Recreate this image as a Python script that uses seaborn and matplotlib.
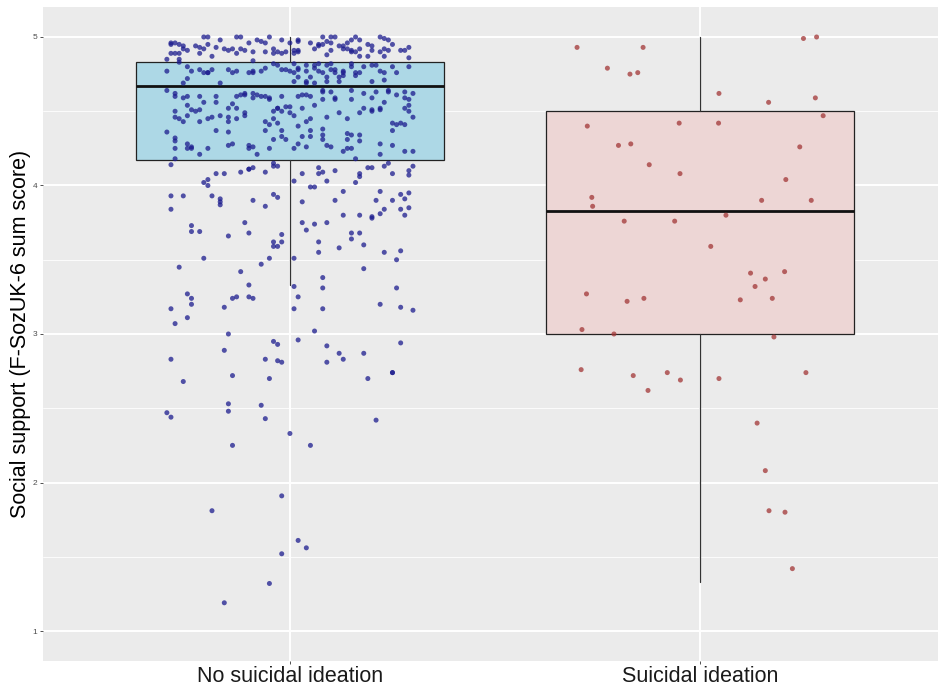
import numpy as np
import pandas as pd
import matplotlib
matplotlib.use("Agg")
import matplotlib.pyplot as plt
import seaborn as sns

# ---------------- data ----------------
categories = ["No suicidal ideation", "Suicidal ideation"]

# box statistics (q1, median, q3, lower whisker, upper whisker)
box_q1 = [4.17, 3.00]
box_med = [4.67, 3.83]
box_q3 = [4.83, 4.50]
box_lo = [3.33, 1.33]
box_hi = [5.00, 5.00]

# jittered points: horizontal jitter offset and score, group "No suicidal ideation"
no_si_jit = [
    -0.29, -0.29, -0.28, -0.27, -0.26, -0.27, -0.29, -0.28, -0.26, -0.25, -0.23, -0.22, -0.21, -0.20, -0.21,
    -0.20, -0.22, -0.19, -0.18, -0.17, -0.16, -0.15, -0.14, -0.13, -0.13, -0.12, -0.12, -0.11, -0.10, -0.09,
    -0.09, -0.08, -0.07, -0.06, -0.06, -0.05, -0.04, -0.04, -0.03, -0.02, -0.02, -0.01, -0.27, -0.27, -0.30,
    -0.30, -0.25, -0.24, -0.22, -0.21, -0.20, -0.20, -0.19, -0.17, -0.25, -0.15, -0.14, -0.13, -0.10, -0.09,
    -0.09, -0.07, -0.06, -0.04, -0.03, -0.02, -0.01, -0.26,
    -0.30, -0.28, -0.28, -0.26, -0.25, -0.25, -0.24, -0.22, -0.21, -0.18, -0.18, -0.15, -0.14, -0.13, -0.13,
    -0.12, -0.11, -0.11, -0.09, -0.09, -0.08, -0.07, -0.06, -0.05, -0.05, -0.02, -0.01, -0.03, -0.03, -0.04,
    -0.04, -0.28, -0.28, -0.27, -0.26, -0.25, -0.23, -0.22, -0.22, -0.20, -0.19, -0.17, -0.15, -0.15, -0.13,
    -0.11, -0.11, -0.06, -0.06, -0.05, -0.03, -0.02, -0.02, 0.00, -0.30, -0.28, -0.28, -0.25, -0.25, -0.24,
    -0.24, -0.20, -0.18, -0.15, -0.15, -0.14, -0.10, -0.10, -0.09, -0.08, -0.05, -0.04, -0.02, -0.01, -0.28,
    -0.28, -0.22,
    0.02, 0.02, 0.02, 0.02, 0.01, 0.05, 0.06, 0.07, 0.07, 0.08, 0.08, 0.09, 0.09, 0.10, 0.10,
    0.10, 0.11, 0.12, 0.13, 0.13, 0.14, 0.15, 0.14, 0.15, 0.15, 0.16, 0.16, 0.17, 0.17, 0.17,
    0.19, 0.20, 0.19, 0.20, 0.22, 0.23, 0.24, 0.23, 0.23, 0.22, 0.24, 0.25, 0.27, 0.28, 0.29,
    0.29, 0.00, 0.01,
    0.01, 0.02, 0.01, 0.02, 0.02, 0.01, 0.04, 0.04, 0.05, 0.06, 0.06, 0.07, 0.07, 0.08, 0.09,
    0.09, 0.10, 0.10, 0.11, 0.11, 0.12, 0.13, 0.13, 0.13, 0.15, 0.15, 0.16, 0.16, 0.17, 0.18,
    0.20, 0.20, 0.21, 0.22, 0.23, 0.23, 0.25, 0.26, 0.29, 0.04, 0.04, 0.06, 0.09, 0.12, 0.00,
    0.02, 0.03, 0.04, 0.05, 0.08, 0.08, 0.10, 0.08, 0.11, 0.11, 0.15, 0.15, 0.18, 0.20, 0.21,
    0.24, 0.24, 0.26, 0.28, 0.28, 0.30, 0.29, 0.29, 0.28, 0.29, 0.00, 0.01, 0.03, 0.04, 0.05,
    0.06, 0.09, 0.12, 0.14, 0.17, 0.18, 0.20, 0.20, 0.22, 0.22, 0.23, 0.25, 0.26, 0.27, 0.25,
    0.28, 0.30, 0.02, 0.03, 0.05, 0.05, 0.08, 0.08, 0.08, 0.14, 0.15, 0.14, 0.14, 0.15, 0.17,
    0.17, 0.02, 0.04, 0.01, 0.09, 0.10, 0.13, 0.16, 0.22, 0.22, 0.25, 0.28, 0.30,
    -0.29, -0.04, -0.04, -0.03, -0.18, -0.16, -0.12, -0.10, -0.10, -0.09, -0.06, -0.20, -0.21, -0.20, -0.29,
    -0.26, -0.19, -0.17, -0.17, -0.17, -0.09, -0.04, -0.03, -0.29, -0.06, -0.24, -0.24, -0.22, -0.11, -0.10,
    -0.15, -0.02, -0.04, -0.02, -0.04, -0.03, -0.21, -0.05, -0.27, -0.07, -0.12, -0.10, -0.25, -0.24, -0.24,
    -0.14, -0.13, -0.10, -0.09, -0.16, -0.29,
    0.07, 0.03, 0.07, 0.08, 0.01, 0.11, 0.19, 0.20, 0.23, 0.24, 0.17, 0.17, 0.25, 0.29, 0.30,
    0.29, 0.05, 0.06, 0.09, 0.16, 0.13, 0.11, 0.03, 0.22, 0.21, 0.25, 0.27, 0.29, 0.28, 0.23,
    0.22, 0.27, 0.29, 0.28, 0.13, 0.17, 0.20, 0.20, 0.03, 0.06, 0.09, 0.04, 0.15, 0.17, 0.15,
    0.18, 0.07, 0.07, 0.12, 0.23, 0.27, 0.26, 0.01, 0.18, 0.08, 0.01, 0.08, 0.26, 0.02, 0.01,
    0.08, 0.22, 0.27, 0.30,
    -0.25, -0.28, -0.15, 0.06, -0.04, -0.03, 0.02, 0.09, 0.27, -0.16, 0.12, 0.18, -0.29, -0.06, -0.03,
    -0.02, 0.09, 0.13, -0.14, -0.05, -0.26, 0.19, 0.25, 0.25, -0.15, -0.15, -0.07, -0.30, -0.29, -0.06,
    0.21, 0.00, -0.14, 0.05,
    -0.02, -0.19, 0.02, 0.04, -0.02, -0.05, -0.16,
]
no_si_score = [
    4.96, 4.95, 4.96, 4.95, 4.92, 4.89, 4.89, 4.89, 4.94, 4.91, 4.94, 4.93, 5.00, 5.00, 4.92,
    4.95, 4.89, 4.87, 4.93, 4.98, 4.92, 4.91, 4.92, 4.89, 5.00, 5.00, 4.92, 4.91, 4.96, 4.90,
    4.84, 4.98, 4.97, 4.90, 4.96, 5.00, 4.92, 4.89, 4.90, 4.98, 4.89, 4.90, 4.85, 4.83, 4.85,
    4.77, 4.80, 4.77, 4.78, 4.76, 4.76, 4.76, 4.78, 4.69, 4.72, 4.78, 4.76, 4.77, 4.76, 4.76,
    4.77, 4.77, 4.79, 4.82, 4.81, 4.78, 4.78, 4.69,
    4.64, 4.60, 4.62, 4.59, 4.60, 4.54, 4.51, 4.60, 4.56, 4.60, 4.56, 4.52, 4.55, 4.52, 4.60,
    4.61, 4.62, 4.61, 4.62, 4.59, 4.61, 4.60, 4.60, 4.58, 4.59, 4.60, 4.53, 4.52, 4.52, 4.50,
    4.45, 4.50, 4.46, 4.45, 4.43, 4.47, 4.50, 4.43, 4.51, 4.45, 4.46, 4.47, 4.46, 4.43, 4.45,
    4.49, 4.47, 4.43, 4.37, 4.41, 4.42, 4.50, 4.37, 4.49, 4.36, 4.32, 4.30, 4.28, 4.25, 4.26,
    4.25, 4.25, 4.37, 4.36, 4.27, 4.28, 4.27, 4.25, 4.26, 4.21, 4.25, 4.31, 4.33, 4.31, 4.25,
    4.18, 4.21,
    4.98, 4.97, 4.91, 4.90, 4.89, 4.96, 4.92, 4.95, 4.94, 4.95, 5.00, 4.97, 4.88, 4.91, 4.96,
    5.00, 5.00, 4.94, 4.92, 4.94, 4.96, 4.98, 4.92, 4.90, 4.91, 5.00, 4.90, 4.92, 4.98, 4.87,
    4.95, 4.94, 4.87, 4.91, 5.00, 4.99, 4.98, 4.92, 4.87, 4.90, 4.91, 4.95, 4.91, 4.91, 4.93,
    4.86, 4.96, 4.91,
    4.82, 4.78, 4.76, 4.79, 4.73, 4.70, 4.81, 4.77, 4.73, 4.81, 4.79, 4.77, 4.82, 4.76, 4.73,
    4.81, 4.82, 4.78, 4.76, 4.78, 4.73, 4.77, 4.76, 4.74, 4.80, 4.82, 4.74, 4.76, 4.76, 4.80,
    4.81, 4.70, 4.81, 4.77, 4.76, 4.71, 4.80, 4.76, 4.80, 4.69, 4.70, 4.69, 4.70, 4.70, 4.77,
    4.60, 4.61, 4.61, 4.60, 4.64, 4.63, 4.63, 4.58, 4.59, 4.58, 4.64, 4.58, 4.62, 4.59, 4.63,
    4.64, 4.63, 4.61, 4.59, 4.63, 4.62, 4.58, 4.54, 4.52, 4.50, 4.53, 4.47, 4.52, 4.43, 4.45,
    4.54, 4.46, 4.49, 4.45, 4.49, 4.52, 4.51, 4.50, 4.52, 4.51, 4.56, 4.42, 4.41, 4.42, 4.37,
    4.41, 4.46, 4.40, 4.33, 4.37, 4.33, 4.38, 4.34, 4.31, 4.35, 4.34, 4.31, 4.25, 4.25, 4.34,
    4.30, 4.28, 4.26, 4.25, 4.27, 4.26, 4.23, 4.18, 4.28, 4.21, 4.27, 4.23, 4.23,
    4.14, 4.15, 4.13, 4.13, 4.08, 4.08, 4.09, 4.11, 4.11, 4.12, 4.09, 4.04, 4.02, 4.00, 3.93,
    3.93, 3.93, 3.91, 3.89, 3.87, 3.90, 3.94, 3.92, 3.84, 3.86, 3.73, 3.69, 3.69, 3.75, 3.68,
    3.66, 3.67, 3.62, 3.62, 3.59, 3.59, 3.51, 3.51, 3.45, 3.47, 3.42, 3.33, 3.27, 3.24, 3.20,
    3.24, 3.25, 3.25, 3.24, 3.18, 3.17,
    4.12, 4.08, 4.08, 4.09, 4.03, 4.10, 4.12, 4.12, 4.13, 4.15, 4.08, 4.06, 4.08, 4.10, 4.13,
    4.07, 3.99, 3.99, 4.03, 4.02, 3.96, 3.90, 3.89, 3.96, 3.90, 3.90, 3.94, 3.95, 3.91, 3.84,
    3.81, 3.84, 3.85, 3.80, 3.80, 3.80, 3.78, 3.79, 3.75, 3.74, 3.75, 3.70, 3.68, 3.68, 3.64,
    3.60, 3.62, 3.55, 3.58, 3.55, 3.56, 3.50, 3.51, 3.44, 3.38, 3.32, 3.31, 3.31, 3.25, 3.17,
    3.17, 3.20, 3.18, 3.16,
    3.11, 3.07, 3.00, 3.02, 2.95, 2.93, 2.96, 2.92, 2.94, 2.89, 2.87, 2.87, 2.83, 2.83, 2.82,
    2.81, 2.81, 2.83, 2.72, 2.70, 2.68, 2.70, 2.74, 2.74, 2.53, 2.48, 2.52, 2.47, 2.44, 2.43,
    2.42, 2.33, 2.25, 2.25,
    1.91, 1.81, 1.61, 1.56, 1.52, 1.32, 1.19,
]

# jittered points, group "Suicidal ideation"
si_jit = [
    -0.300, -0.139, -0.226, -0.171, -0.152, 0.252, 0.284, 0.046, 0.167, 0.281, 0.300, -0.275, -0.051,
    0.045, -0.199, -0.169, 0.243, -0.124, -0.049, 0.209, -0.264, -0.262, 0.150, 0.271, -0.185, -0.062,
    0.063, 0.026, 0.123, 0.206, 0.159, 0.134, -0.277, -0.178, -0.137, 0.098, 0.176, -0.288, -0.210,
    0.180, -0.290, -0.163, -0.080, -0.048, -0.127, 0.046, 0.258, 0.139, 0.159, 0.168, 0.207, 0.225,
]
si_score = [
    4.93, 4.93, 4.79, 4.75, 4.76, 4.99, 5.00, 4.62, 4.56, 4.59, 4.47, 4.40, 4.42,
    4.42, 4.27, 4.28, 4.26, 4.14, 4.08, 4.04, 3.92, 3.86, 3.90, 3.90, 3.76, 3.76,
    3.80, 3.59, 3.41, 3.42, 3.37, 3.32, 3.27, 3.22, 3.24, 3.23, 3.24, 3.03, 3.00,
    2.98, 2.76, 2.72, 2.74, 2.69, 2.62, 2.70, 2.74, 2.40, 2.08, 1.81, 1.80, 1.42,
]

# ---------------- styling ----------------
sns.set_theme(style="darkgrid", rc={
    "axes.facecolor": "#EBEBEB",
    "grid.color": "white",
    "axes.edgecolor": "#EBEBEB",
})
plt.rcParams["font.family"] = ["Liberation Sans", "DejaVu Sans"]

fig = plt.figure(figsize=(9.38, 6.87), dpi=100)
ax = fig.add_axes([43 / 938, 26 / 687, 895 / 938, 654 / 687])

# ---------------- boxes ----------------
stats = []
for i, c in enumerate(categories):
    stats.append(dict(label=c, q1=box_q1[i], med=box_med[i], q3=box_q3[i],
                      whislo=box_lo[i], whishi=box_hi[i], fliers=[]))
bp = ax.bxp(stats, positions=[0, 1], widths=0.75, patch_artist=True,
            showfliers=False, showcaps=False, manage_ticks=False,
            boxprops=dict(linewidth=0.9, edgecolor="#222222"),
            whiskerprops=dict(linewidth=0.9, color="#333333"),
            medianprops=dict(linewidth=2.0, color="#111111"))
for patch, fc in zip(bp["boxes"], ["#ADD8E6", "#EDD6D5"]):
    patch.set_facecolor(fc)
for artist_list in bp.values():
    for a in artist_list:
        a.set_zorder(2)

# ---------------- points ----------------
df = pd.DataFrame({
    "group": [categories[0]] * len(no_si_score) + [categories[1]] * len(si_score),
    "jit": no_si_jit + si_jit,
    "score": no_si_score + si_score,
})
df["xpos"] = df["group"].map({c: i for i, c in enumerate(categories)}) + df["jit"]
sns.scatterplot(data=df, x="xpos", y="score", hue="group",
                palette={categories[0]: "#1c1c8e", categories[1]: "#a23636"},
                s=13, linewidth=0, alpha=0.75, legend=False, ax=ax, zorder=3)

# ---------------- axes ----------------
ax.set_xlim(-0.602, 1.580)
ax.set_ylim(0.798, 5.202)
ax.set_xticks([0, 1])
ax.set_xticklabels(categories, fontsize=15.5, color="#1a1a1a")
ax.set_yticks([1, 2, 3, 4, 5])
ax.set_yticklabels(["1", "2", "3", "4", "5"], fontsize=6, color="#4D4D4D")
ax.set_yticks([1.5, 2.5, 3.5, 4.5], minor=True)
ax.grid(True, which="major", color="white", linewidth=1.4)
ax.grid(True, which="minor", axis="y", color="white", linewidth=0.6)
ax.tick_params(axis="both", which="major", length=2.5, width=0.6, color="#333333",
               bottom=True, left=True)
ax.tick_params(axis="x", pad=1.0)
ax.tick_params(axis="y", pad=1.5)
ax.tick_params(which="minor", length=0)
ax.set_xlabel("")
ax.set_ylabel("Social support (F-SozUK-6 sum score)", fontsize=15.5, color="black")
ax.yaxis.set_label_coords(-0.013, 0.5)
for s in ax.spines.values():
    s.set_visible(False)
ax.set_axisbelow(True)

fig.savefig("out.png", dpi=100)
